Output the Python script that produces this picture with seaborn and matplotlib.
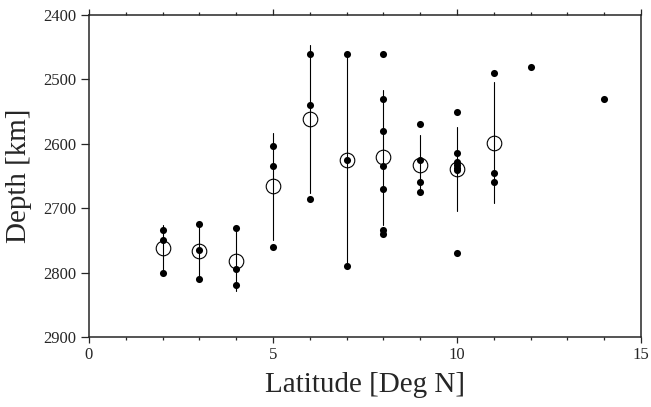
# 위도별 깊이 분포 (평균 ± 표준편차)
import numpy as np
import pandas as pd
import matplotlib.pyplot as plt
import seaborn as sns

sns.set_style('ticks')
plt.rcParams['font.family'] = ['Liberation Serif', 'DejaVu Serif']

# 위도별 관측 깊이 [km]
lat2 = [2734, 2749, 2801]
lat3 = [2724, 2765, 2810]
lat4 = [2730, 2795, 2820]
lat5 = [2604, 2634, 2760]
lat6 = [2460, 2539, 2686]
lat7 = [2460, 2625, 2790]
lat8 = [2460, 2530, 2580, 2634, 2670, 2734, 2740]
lat9 = [2570, 2625, 2660, 2675]
lat10 = [2550, 2615, 2628, 2633, 2638, 2641, 2770]
lat11 = [2490, 2645, 2660]
lat12 = [2480]
lat14 = [2530]

groups = {2: lat2, 3: lat3, 4: lat4, 5: lat5, 6: lat6, 7: lat7, 8: lat8,
          9: lat9, 10: lat10, 11: lat11, 12: lat12, 14: lat14}
df = pd.DataFrame([(k, v) for k, vals in groups.items() for v in vals],
                  columns=['lat', 'depth'])
counts = df.groupby('lat')['depth'].transform('count')
multi = df[counts > 1]

fig = plt.figure(figsize=(6.51, 4.07), dpi=100)
ax = fig.add_axes([0.1367, 0.172, 0.8479, 0.7911])

# 평균 (빈 원) + 표준편차 막대
sns.lineplot(data=multi, x='lat', y='depth', estimator='mean', errorbar='sd',
             err_style='bars', linestyle='', marker='o', markersize=10.5,
             markerfacecolor='none', markeredgecolor='k', markeredgewidth=0.8,
             color='k', err_kws={'elinewidth': 0.8, 'capsize': 0},
             ax=ax, zorder=2)
# 개별 관측값
sns.scatterplot(data=df, x='lat', y='depth', color='k', s=26, linewidth=0,
                ax=ax, zorder=3)

ax.set_xlim(0, 15)
ax.set_ylim(2900, 2400)
ax.set_xticks([0, 5, 10, 15])
ax.set_xticks(np.arange(0, 16, 1), minor=True)
ax.set_yticks(np.arange(2400, 2901, 100))
ax.tick_params(which='both', direction='out', top=True, right=False,
               labelsize=12, width=0.9, pad=3)
ax.tick_params(axis='x', which='major', length=4.5)
ax.tick_params(axis='x', which='minor', length=2.2)
ax.tick_params(axis='y', which='major', length=6)
for sp in ax.spines.values():
    sp.set_linewidth(1.1)

ax.set_xlabel('Latitude [Deg N]', fontsize=21, labelpad=6)
ax.set_ylabel('Depth [km]', fontsize=21, labelpad=8)

fig.savefig('out.png', dpi=100)
